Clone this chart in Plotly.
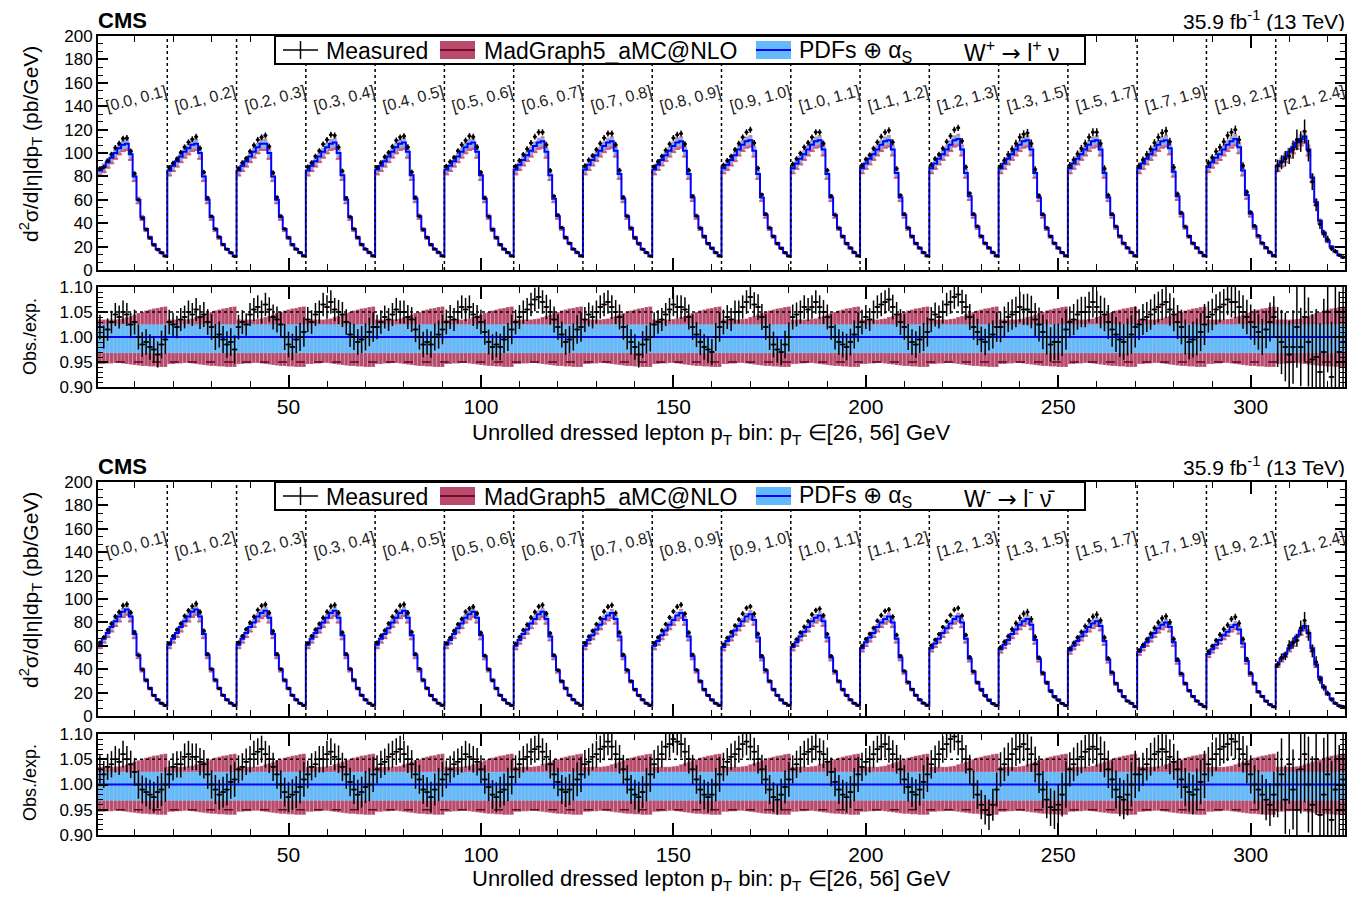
import plotly.graph_objects as go

# ---------------- data ----------------
ETA_BINS = ["[0.0, 0.1]", "[0.1, 0.2]", "[0.2, 0.3]", "[0.3, 0.4]", "[0.4, 0.5]", "[0.5, 0.6]",
            "[0.6, 0.7]", "[0.7, 0.8]", "[0.8, 0.9]", "[0.9, 1.0]", "[1.0, 1.1]", "[1.1, 1.2]",
            "[1.2, 1.3]", "[1.3, 1.5]", "[1.5, 1.7]", "[1.7, 1.9]", "[1.9, 2.1]", "[2.1, 2.4]"]
N_PT = 18

# expected (PDFs + alpha_S central), pb/GeV, W+
EXP_WP = [
    [85, 88, 92, 96, 100, 104, 107, 108, 99, 80, 60, 45, 35, 28, 22, 18, 15, 12],
    [85, 89, 93, 97, 101, 104, 107, 108, 100, 80, 60, 45, 35, 28, 22, 18, 15, 12],
    [85, 89, 93, 97, 101, 105, 108, 108, 100, 80, 60, 45, 35, 28, 22, 18, 15, 12],
    [85, 89, 93, 97, 101, 105, 108, 109, 100, 81, 60, 45, 35, 28, 22, 18, 15, 12],
    [86, 89, 93, 97, 101, 105, 108, 109, 101, 81, 61, 46, 35, 28, 22, 18, 15, 12],
    [86, 89, 93, 97, 101, 105, 108, 109, 101, 81, 61, 46, 35, 28, 22, 18, 15, 12],
    [86, 90, 94, 98, 102, 106, 109, 110, 101, 81, 61, 46, 36, 28, 23, 18, 15, 12],
    [86, 90, 94, 98, 102, 106, 109, 110, 102, 82, 61, 46, 36, 28, 23, 18, 15, 12],
    [86, 90, 94, 98, 102, 106, 109, 110, 102, 82, 62, 46, 36, 29, 23, 19, 15, 12],
    [87, 90, 94, 98, 103, 107, 110, 111, 102, 82, 62, 47, 36, 29, 23, 19, 15, 12],
    [87, 91, 95, 99, 103, 107, 110, 111, 103, 82, 62, 47, 36, 29, 23, 19, 15, 12],
    [87, 91, 95, 99, 103, 107, 110, 111, 103, 83, 62, 47, 36, 29, 23, 19, 15, 12],
    [87, 91, 95, 99, 103, 107, 111, 112, 103, 83, 63, 47, 37, 29, 23, 19, 15, 12],
    [87, 91, 95, 99, 103, 107, 110, 111, 103, 83, 62, 47, 36, 29, 23, 19, 15, 12],
    [87, 91, 95, 99, 103, 107, 110, 111, 103, 83, 62, 47, 37, 29, 23, 19, 15, 12],
    [87, 91, 95, 99, 103, 107, 110, 111, 104, 84, 63, 48, 37, 29, 23, 19, 15, 12],
    [88, 92, 96, 99, 103, 107, 110, 112, 105, 85, 64, 48, 37, 29, 23, 19, 15, 12],
    [89, 93, 97, 101, 105, 109, 112, 114, 103, 79, 58, 42, 32, 25, 20, 16, 13, 11],
]

# observed / expected, W+
RATIO_WP = [
    [1.02, 1.00, 1.015, 1.03, 1.045, 1.04, 1.05, 1.045, 1.025, 1.03, 1.00, 0.985, 0.99, 0.98, 0.975, 0.965, 0.985, 0.995],
    [1.03, 1.025, 1.02, 1.035, 1.04, 1.05, 1.045, 1.055, 1.04, 1.045, 1.03, 1.02, 1.00, 1.005, 0.995, 0.985, 0.99, 0.975],
    [1.02, 1.03, 1.025, 1.045, 1.055, 1.06, 1.05, 1.065, 1.055, 1.04, 1.035, 1.025, 1.00, 0.985, 0.98, 0.995, 1.00, 1.01],
    [1.035, 1.03, 1.045, 1.05, 1.065, 1.06, 1.07, 1.055, 1.05, 1.045, 1.03, 1.005, 1.00, 0.99, 0.995, 1.00, 1.01, 1.02],
    [1.02, 1.03, 1.04, 1.035, 1.045, 1.055, 1.05, 1.05, 1.04, 1.035, 1.015, 1.00, 0.985, 0.99, 0.985, 1.00, 1.005, 1.015],
    [1.03, 1.04, 1.035, 1.05, 1.06, 1.055, 1.06, 1.045, 1.04, 1.03, 1.01, 0.99, 0.98, 0.985, 0.98, 0.995, 1.00, 1.015],
    [1.03, 1.04, 1.05, 1.055, 1.065, 1.075, 1.08, 1.07, 1.06, 1.05, 1.035, 1.02, 1.005, 0.99, 0.995, 1.00, 1.015, 1.02],
    [1.035, 1.045, 1.04, 1.05, 1.06, 1.065, 1.07, 1.06, 1.05, 1.04, 1.02, 1.00, 0.99, 0.98, 0.965, 0.985, 0.995, 1.00],
    [1.025, 1.03, 1.035, 1.045, 1.055, 1.065, 1.06, 1.06, 1.055, 1.04, 1.02, 1.005, 0.99, 0.98, 0.975, 0.97, 1.00, 1.02],
    [1.03, 1.04, 1.035, 1.05, 1.05, 1.06, 1.07, 1.08, 1.065, 1.06, 1.04, 1.02, 1.00, 0.985, 0.975, 0.97, 0.985, 1.00],
    [1.04, 1.045, 1.05, 1.06, 1.055, 1.06, 1.07, 1.06, 1.05, 1.04, 1.02, 1.00, 0.99, 0.985, 0.98, 0.99, 1.005, 1.02],
    [1.03, 1.04, 1.035, 1.05, 1.06, 1.065, 1.07, 1.075, 1.06, 1.045, 1.03, 1.02, 1.00, 0.99, 0.985, 0.995, 1.00, 1.01],
    [1.035, 1.045, 1.04, 1.05, 1.065, 1.07, 1.08, 1.085, 1.07, 1.06, 1.04, 1.02, 1.01, 0.995, 0.99, 1.00, 1.005, 1.02],
    [1.02, 1.03, 1.04, 1.045, 1.05, 1.06, 1.055, 1.055, 1.05, 1.035, 1.025, 1.01, 1.00, 0.985, 0.99, 0.99, 1.00, 1.015],
    [1.03, 1.035, 1.045, 1.05, 1.05, 1.06, 1.07, 1.06, 1.05, 1.045, 1.03, 1.015, 1.005, 0.995, 0.99, 1.00, 1.005, 1.02],
    [1.025, 1.035, 1.04, 1.045, 1.055, 1.06, 1.065, 1.07, 1.055, 1.045, 1.03, 1.02, 1.00, 0.99, 0.995, 1.00, 1.01, 1.025],
    [1.04, 1.045, 1.055, 1.06, 1.065, 1.075, 1.07, 1.07, 1.06, 1.05, 1.04, 1.03, 1.02, 1.01, 1.00, 1.015, 1.03, 1.04],
    [1.00, 0.99, 0.98, 0.965, 0.98, 1.02, 0.98, 1.04, 0.99, 0.955, 0.96, 0.93, 0.97, 1.05, 0.92, 1.00, 0.97, 0.99],
]

# expected, W-
EXP_WM = [
    [61, 66, 71, 76, 81, 85, 89, 91, 85, 70, 52, 40, 31, 24, 18, 14, 11, 9],
    [61, 66, 71, 76, 81, 85, 89, 91, 85, 70, 52, 40, 31, 24, 18, 14, 11, 9],
    [61, 66, 71, 76, 80, 85, 88, 90, 84, 70, 52, 40, 31, 24, 18, 14, 11, 9],
    [61, 66, 71, 75, 80, 84, 88, 90, 84, 69, 52, 40, 31, 24, 18, 14, 11, 9],
    [61, 66, 70, 75, 80, 84, 88, 90, 84, 69, 52, 40, 31, 24, 18, 14, 11, 9],
    [61, 65, 70, 75, 79, 84, 87, 89, 84, 69, 51, 40, 31, 24, 18, 14, 11, 9],
    [60, 65, 70, 74, 79, 83, 87, 89, 83, 68, 51, 39, 30, 24, 18, 14, 11, 9],
    [60, 65, 69, 74, 78, 83, 86, 88, 83, 68, 51, 39, 30, 23, 18, 14, 11, 9],
    [60, 64, 69, 73, 78, 82, 86, 88, 82, 68, 51, 39, 30, 23, 18, 14, 11, 9],
    [59, 64, 68, 73, 77, 81, 85, 87, 82, 67, 50, 39, 30, 23, 18, 14, 11, 9],
    [59, 63, 68, 72, 76, 81, 84, 86, 81, 67, 50, 38, 30, 23, 18, 14, 11, 9],
    [58, 63, 67, 71, 76, 80, 83, 85, 80, 66, 50, 38, 29, 23, 18, 14, 11, 9],
    [58, 62, 66, 71, 75, 79, 83, 85, 80, 66, 49, 38, 29, 23, 18, 14, 11, 9],
    [57, 61, 65, 70, 74, 78, 81, 83, 78, 65, 49, 37, 29, 22, 17, 14, 11, 9],
    [56, 60, 64, 68, 72, 76, 79, 81, 77, 64, 48, 37, 28, 22, 17, 13, 11, 8],
    [55, 59, 63, 67, 71, 75, 78, 80, 76, 63, 47, 36, 28, 22, 17, 13, 10, 8],
    [53, 57, 61, 65, 69, 72, 76, 78, 74, 62, 47, 36, 28, 21, 17, 13, 10, 8],
    [44, 49, 53, 58, 63, 68, 73, 77, 71, 58, 44, 33, 25, 19, 15, 11, 9, 8],
]

# observed / expected, W-
RATIO_WM = [
    [1.03, 1.02, 1.035, 1.04, 1.05, 1.045, 1.06, 1.05, 1.04, 1.025, 1.00, 0.99, 0.985, 0.98, 0.975, 0.985, 0.99, 1.00],
    [1.02, 1.035, 1.04, 1.04, 1.055, 1.06, 1.055, 1.055, 1.045, 1.04, 1.02, 1.00, 0.99, 0.98, 0.985, 0.99, 1.005, 1.01],
    [1.03, 1.035, 1.045, 1.05, 1.06, 1.065, 1.07, 1.06, 1.05, 1.035, 1.02, 1.00, 0.985, 0.975, 0.98, 0.985, 0.995, 1.01],
    [1.02, 1.035, 1.04, 1.05, 1.05, 1.06, 1.065, 1.055, 1.05, 1.035, 1.02, 1.005, 0.99, 0.98, 0.985, 0.995, 1.00, 1.02],
    [1.03, 1.04, 1.045, 1.055, 1.06, 1.065, 1.07, 1.06, 1.05, 1.04, 1.02, 1.01, 0.99, 0.985, 0.975, 0.99, 1.00, 1.01],
    [1.02, 1.03, 1.04, 1.045, 1.05, 1.06, 1.055, 1.05, 1.045, 1.03, 1.01, 0.995, 0.98, 0.975, 0.985, 0.99, 1.00, 1.015],
    [1.03, 1.04, 1.05, 1.055, 1.065, 1.07, 1.075, 1.065, 1.055, 1.04, 1.02, 1.005, 0.99, 0.985, 0.99, 1.00, 1.01, 1.02],
    [1.04, 1.045, 1.055, 1.06, 1.07, 1.075, 1.085, 1.075, 1.06, 1.05, 1.03, 1.01, 0.99, 0.98, 0.975, 0.985, 1.00, 1.02],
    [1.04, 1.05, 1.06, 1.075, 1.08, 1.09, 1.085, 1.08, 1.065, 1.05, 1.03, 1.01, 0.99, 0.98, 0.975, 0.98, 1.00, 1.02],
    [1.035, 1.045, 1.055, 1.06, 1.07, 1.08, 1.085, 1.075, 1.065, 1.05, 1.03, 1.01, 0.99, 0.975, 0.97, 0.98, 0.995, 1.01],
    [1.03, 1.04, 1.05, 1.06, 1.065, 1.07, 1.075, 1.065, 1.06, 1.045, 1.025, 1.005, 0.99, 0.98, 0.975, 0.985, 1.00, 1.02],
    [1.035, 1.045, 1.05, 1.06, 1.07, 1.075, 1.08, 1.07, 1.06, 1.05, 1.03, 1.01, 0.995, 0.985, 0.98, 0.99, 1.005, 1.02],
    [1.04, 1.05, 1.06, 1.07, 1.08, 1.09, 1.095, 1.085, 1.07, 1.05, 1.03, 1.00, 0.98, 0.96, 0.95, 0.94, 0.96, 0.99],
    [1.03, 1.04, 1.05, 1.06, 1.07, 1.075, 1.08, 1.07, 1.06, 1.04, 1.02, 0.99, 0.97, 0.955, 0.95, 0.96, 0.98, 1.00],
    [1.03, 1.04, 1.05, 1.055, 1.065, 1.07, 1.075, 1.07, 1.06, 1.05, 1.03, 1.01, 0.99, 0.975, 0.97, 0.98, 1.00, 1.02],
    [1.02, 1.03, 1.04, 1.05, 1.06, 1.065, 1.07, 1.065, 1.055, 1.045, 1.03, 1.01, 0.995, 0.985, 0.98, 0.99, 1.005, 1.02],
    [1.04, 1.05, 1.06, 1.07, 1.075, 1.08, 1.09, 1.085, 1.07, 1.06, 1.04, 1.02, 1.00, 0.99, 0.98, 0.97, 0.96, 0.98],
    [1.00, 1.02, 0.97, 1.04, 0.99, 0.95, 1.03, 1.06, 1.00, 0.96, 1.05, 0.94, 0.98, 1.02, 0.93, 0.99, 0.95, 1.01],
]

# relative uncertainties of the measurement (per pT bin)
ERR_CENTRAL_WP = [0.024, 0.023, 0.022, 0.022, 0.022, 0.022, 0.022, 0.022, 0.023, 0.024, 0.025, 0.025, 0.026, 0.026, 0.027, 0.027, 0.028, 0.029]
ERR_FWD_WP = [0.030, 0.030, 0.029, 0.029, 0.029, 0.029, 0.029, 0.030, 0.031, 0.032, 0.033, 0.034, 0.035, 0.035, 0.036, 0.037, 0.038, 0.040]
ERR_LAST_WP = [0.060, 0.065, 0.070, 0.070, 0.075, 0.080, 0.080, 0.085, 0.090, 0.095, 0.100, 0.105, 0.110, 0.115, 0.120, 0.120, 0.125, 0.130]
ERR_CENTRAL_WM = [0.027, 0.026, 0.025, 0.025, 0.025, 0.025, 0.025, 0.025, 0.026, 0.027, 0.028, 0.028, 0.029, 0.030, 0.031, 0.032, 0.033, 0.034]
ERR_FWD_WM = [0.033, 0.032, 0.031, 0.031, 0.031, 0.031, 0.031, 0.032, 0.033, 0.034, 0.036, 0.037, 0.038, 0.039, 0.040, 0.042, 0.044, 0.046]
ERR_LAST_WM = [0.065, 0.070, 0.070, 0.075, 0.080, 0.085, 0.085, 0.090, 0.095, 0.100, 0.105, 0.110, 0.115, 0.120, 0.125, 0.130, 0.135, 0.140]
ERR_GROUP = ["c"] * 13 + ["f"] * 4 + ["l"]

# MadGraph5_aMC@NLO band relative to expectation (per pT bin)
MG_HI = [1.035, 1.035, 1.035, 1.035, 1.035, 1.036, 1.037, 1.040, 1.042, 1.045, 1.048, 1.050, 1.053, 1.055, 1.057, 1.058, 1.060, 1.061]
MG_LO = [0.946, 0.946, 0.947, 0.947, 0.948, 0.948, 0.947, 0.946, 0.945, 0.944, 0.943, 0.942, 0.942, 0.941, 0.941, 0.940, 0.940, 0.940]
MG_CENTRAL = 0.95
# PDFs + alpha_S band relative to expectation
PDF_HI = [1.025, 1.025, 1.025, 1.025, 1.025, 1.025, 1.025, 1.025, 1.025, 1.025, 1.025, 1.025, 1.025, 1.025, 1.025, 1.025, 1.025, 1.025]
PDF_LO = [0.968, 0.968, 0.968, 0.968, 0.968, 0.968, 0.968, 0.968, 0.968, 0.968, 0.968, 0.968, 0.968, 0.968, 0.968, 0.968, 0.968, 0.968]

# ---------------- styling / geometry ----------------
OFF = 8                      # page body margin of the html page
FIG_W, FIG_H = 1367 - 2 * OFF, 903 - 2 * OFF
PL, PR, PT, PB = 98 - OFF, 1345 - OFF, 36 - OFF, 835 - OFF   # plot area, figure pixels
FONT = "Liberation Sans, Arial, Helvetica, sans-serif"
RED = "rgb(184,74,108)"
RED_MAIN = "rgba(190,90,125,0.75)"
BLUE_BAND = "rgb(98,186,250)"
BLUE_MAIN = "rgba(110,195,250,0.85)"
BLUE_LINE = "#0000ff"


def pxx(px):
    """page x pixel -> paper coordinate"""
    return (px - OFF - PL) / (PR - PL)


def pxy(py):
    """page y pixel -> paper coordinate"""
    return (PB - (py - OFF)) / (PB - PT)


fig = go.Figure()


def add_panel(exp, ratio, err_c, err_f, err_l, xm, ym, xr, yr):
    centers, e, r, rel = [], [], [], []
    for k, (row_e, row_r) in enumerate(zip(exp, ratio)):
        errs = {"c": err_c, "f": err_f, "l": err_l}[ERR_GROUP[k]]
        for j in range(N_PT):
            centers.append(k * N_PT + j + 1)
            e.append(row_e[j])
            r.append(row_r[j])
            rel.append(errs[j])
    n = len(centers)
    mg_hi = [MG_HI[i % N_PT] for i in range(n)]
    mg_lo = [MG_LO[i % N_PT] for i in range(n)]
    pdf_hi = [PDF_HI[i % N_PT] for i in range(n)]
    pdf_lo = [PDF_LO[i % N_PT] for i in range(n)]
    meas = [e[i] * r[i] for i in range(n)]
    meas_err = [meas[i] * rel[i] for i in range(n)]

    # ---- main panel ----
    fig.add_trace(go.Bar(x=centers, base=[e[i] * mg_lo[i] for i in range(n)],
                         y=[e[i] * (mg_hi[i] - mg_lo[i]) for i in range(n)], width=1.0,
                         marker=dict(color=RED_MAIN, line=dict(width=0)),
                         xaxis=xm, yaxis=ym, showlegend=False, hoverinfo="skip"))
    fig.add_trace(go.Bar(x=centers, base=[e[i] * pdf_lo[i] for i in range(n)],
                         y=[e[i] * (pdf_hi[i] - pdf_lo[i]) for i in range(n)], width=1.0,
                         marker=dict(color=BLUE_MAIN, line=dict(width=0)),
                         xaxis=xm, yaxis=ym, showlegend=False, hoverinfo="skip"))
    fig.add_trace(go.Scatter(x=centers, y=[v * MG_CENTRAL for v in e], mode="markers",
                             marker=dict(symbol="line-ew", size=4, line=dict(width=2, color="rgb(200,95,130)")),
                             xaxis=xm, yaxis=ym, showlegend=False, hoverinfo="skip"))
    sx = [c - 0.5 for c in centers] + [centers[-1] + 0.5]
    sy = e + [e[-1]]
    fig.add_trace(go.Scatter(x=sx, y=sy, mode="lines", line=dict(color=BLUE_LINE, width=2, shape="hv"),
                             xaxis=xm, yaxis=ym, showlegend=False, hoverinfo="skip"))
    fig.add_trace(go.Scatter(x=centers, y=meas, mode="markers",
                             marker=dict(symbol="circle", size=3.5, color="black"),
                             error_y=dict(type="data", array=meas_err, thickness=1.5, width=0, color="black"),
                             error_x=dict(type="constant", value=0.5, thickness=1.5, width=0, color="black"),
                             xaxis=xm, yaxis=ym, showlegend=False, hoverinfo="skip"))

    # ---- ratio panel ----
    fig.add_trace(go.Bar(x=centers, base=mg_lo, y=[mg_hi[i] - mg_lo[i] for i in range(n)], width=1.0,
                         marker=dict(color=RED, line=dict(width=0.6, color="rgba(255,255,255,0.35)")),
                         xaxis=xr, yaxis=yr, showlegend=False, hoverinfo="skip"))
    fig.add_trace(go.Bar(x=centers, base=pdf_lo, y=[pdf_hi[i] - pdf_lo[i] for i in range(n)], width=1.0,
                         marker=dict(color=BLUE_BAND, line=dict(width=0.4, color="rgba(255,255,255,0.3)")),
                         xaxis=xr, yaxis=yr, showlegend=False, hoverinfo="skip"))
    x_edges = [0.5, centers[-1] + 0.5]
    fig.add_trace(go.Scatter(x=x_edges, y=[MG_CENTRAL] * 2, mode="lines",
                             line=dict(color="#5a0a22", width=1.5, dash="dash"),
                             xaxis=xr, yaxis=yr, showlegend=False, hoverinfo="skip"))
    fig.add_trace(go.Scatter(x=x_edges, y=[1.05, 1.05], mode="lines",
                             line=dict(color="black", width=1.5, dash="dot"),
                             xaxis=xr, yaxis=yr, showlegend=False, hoverinfo="skip"))
    fig.add_trace(go.Scatter(x=x_edges, y=[1.0, 1.0], mode="lines",
                             line=dict(color=BLUE_LINE, width=2),
                             xaxis=xr, yaxis=yr, showlegend=False, hoverinfo="skip"))
    fig.add_trace(go.Scatter(x=centers, y=r, mode="markers",
                             marker=dict(symbol="line-ew", size=4, color="black", line=dict(width=1.5, color="black")),
                             error_y=dict(type="data", array=[r[i] * rel[i] for i in range(n)],
                                          thickness=1.5, width=0, color="black"),
                             error_x=dict(type="constant", value=0.5, thickness=1.5, width=0, color="black"),
                             xaxis=xr, yaxis=yr, showlegend=False, hoverinfo="skip"))
    return n


n_bins = add_panel(EXP_WP, RATIO_WP, ERR_CENTRAL_WP, ERR_FWD_WP, ERR_LAST_WP, "x", "y", "x2", "y2")
add_panel(EXP_WM, RATIO_WM, ERR_CENTRAL_WM, ERR_FWD_WM, ERR_LAST_WM, "x3", "y3", "x4", "y4")

XR = [0.5, n_bins + 0.5]

dom_main_top = [pxy(270), pxy(36)]
dom_rat_top = [pxy(387), pxy(287)]
dom_main_bot = [pxy(716), pxy(482)]
dom_rat_bot = [pxy(835), pxy(734)]

ytickfont = dict(family=FONT, size=17, color="black")
xtickfont = dict(family=FONT, size=21, color="black")


def xaxis(anchor, labels):
    return dict(domain=[0, 1], anchor=anchor, range=XR, showline=True, linewidth=2, linecolor="black",
                mirror="allticks", ticks="inside", ticklen=12, tickwidth=1.5, tickcolor="black",
                tick0=0, dtick=50, showticklabels=labels, tickfont=xtickfont, showgrid=False, zeroline=False,
                minor=dict(dtick=10, tick0=0, ticks="inside", ticklen=6, tickwidth=1, tickcolor="black"))


def yaxis_main(anchor, dom):
    return dict(domain=dom, anchor=anchor, range=[0, 200], showline=True, linewidth=2, linecolor="black",
                mirror="allticks", ticks="inside", ticklen=10, tickwidth=1.5, tickcolor="black",
                tick0=0, dtick=20, tickfont=ytickfont, showgrid=False, zeroline=False,
                minor=dict(dtick=20 / 3, tick0=0, ticks="inside", ticklen=5, tickwidth=1, tickcolor="black"))


def yaxis_ratio(anchor, dom):
    return dict(domain=dom, anchor=anchor, range=[0.9, 1.1], showline=True, linewidth=2, linecolor="black",
                mirror="allticks", ticks="inside", ticklen=10, tickwidth=1.5, tickcolor="black",
                tick0=0.9, dtick=0.05, tickformat=".2f", tickfont=ytickfont, showgrid=False, zeroline=False,
                minor=dict(dtick=0.01, tick0=0.9, ticks="inside", ticklen=5, tickwidth=1, tickcolor="black"))


shapes = []
annotations = []
ARROW = "<span style='font-family:DejaVu Sans'>→</span>"

for (xm, ym, top_px, wlabel) in [("x", "y", 36, "W<sup>+</sup> " + ARROW + " l<sup>+</sup> ν"),
                                  ("x3", "y3", 482, "W<sup>-</sup> " + ARROW + " l<sup>-</sup> ν̄")]:
    # segment separators
    for k in range(1, len(ETA_BINS)):
        xb = k * N_PT + 0.5
        shapes.append(dict(type="line", xref=xm, yref=ym, x0=xb, x1=xb, y0=0, y1=200,
                           line=dict(color="black", width=1.5, dash="dot"), layer="above"))
    # eta-bin labels
    for k, lab in enumerate(ETA_BINS):
        annotations.append(dict(x=k * N_PT + N_PT / 2 + 1.4, y=147, xref=xm, yref=ym, text=lab,
                                textangle=-15, showarrow=False,
                                font=dict(family=FONT, size=16, color="#222")))
    # legend box
    ly0, ly1 = top_px, top_px + 28
    ymid = (ly0 + ly1) / 2
    shapes.append(dict(type="rect", xref="paper", yref="paper", x0=pxx(275), x1=pxx(1085),
                       y0=pxy(ly1), y1=pxy(ly0), fillcolor="white", line=dict(color="black", width=2),
                       layer="above"))
    shapes.append(dict(type="line", xref="paper", yref="paper", x0=pxx(283), x1=pxx(318),
                       y0=pxy(ymid), y1=pxy(ymid), line=dict(color="black", width=1.5), layer="above"))
    shapes.append(dict(type="line", xref="paper", yref="paper", x0=pxx(300.5), x1=pxx(300.5),
                       y0=pxy(ymid - 9), y1=pxy(ymid + 9), line=dict(color="black", width=1.5), layer="above"))
    shapes.append(dict(type="rect", xref="paper", yref="paper", x0=pxx(440), x1=pxx(475),
                       y0=pxy(ymid + 9), y1=pxy(ymid - 9), fillcolor=RED, line=dict(width=0), layer="above"))
    shapes.append(dict(type="line", xref="paper", yref="paper", x0=pxx(440), x1=pxx(475),
                       y0=pxy(ymid), y1=pxy(ymid), line=dict(color="#7a0a2c", width=2), layer="above"))
    shapes.append(dict(type="rect", xref="paper", yref="paper", x0=pxx(756), x1=pxx(791),
                       y0=pxy(ymid + 9), y1=pxy(ymid - 9), fillcolor=BLUE_BAND, line=dict(width=0), layer="above"))
    shapes.append(dict(type="line", xref="paper", yref="paper", x0=pxx(756), x1=pxx(791),
                       y0=pxy(ymid), y1=pxy(ymid), line=dict(color=BLUE_LINE, width=2), layer="above"))
    lfont = dict(family=FONT, size=23, color="black")
    for xt, txt in [(324, "Measured"), (482, "MadGraph5_aMC@NLO"), (797, "PDFs ⊕ α<sub>S</sub>"), (962, wlabel)]:
        annotations.append(dict(x=pxx(xt), y=pxy(ymid + 1), xref="paper", yref="paper", text=txt,
                                xanchor="left", yanchor="middle", showarrow=False, font=lfont))
    # CMS + lumi
    annotations.append(dict(x=pxx(97), y=pxy(top_px - 16), xref="paper", yref="paper", text="<b>CMS</b>",
                            xanchor="left", yanchor="middle", showarrow=False, height=22, borderpad=0,
                            font=dict(family=FONT, size=22, color="black")))
    annotations.append(dict(x=pxx(1346), y=pxy(top_px - 16), xref="paper", yref="paper",
                            text="35.9 fb<sup>-1</sup> (13 TeV)", xanchor="right", yanchor="middle",
                            showarrow=False, height=22, borderpad=0,
                            font=dict(family=FONT, size=21, color="black")))
    # y titles
    annotations.append(dict(x=pxx(30), y=pxy(top_px + 108), xref="paper", yref="paper",
                            text="d<sup>2</sup>σ/d|η|dp<sub>T</sub> (pb/GeV)", textangle=-90,
                            xanchor="center", yanchor="middle", showarrow=False,
                            font=dict(family=FONT, size=21, color="black")))
    annotations.append(dict(x=pxx(30), y=pxy(top_px + 301), xref="paper", yref="paper",
                            text="Obs./exp.", textangle=-90, xanchor="center", yanchor="middle",
                            showarrow=False, font=dict(family=FONT, size=18, color="black")))
    # x title
    annotations.append(dict(x=pxx(711), y=pxy(top_px + 398), xref="paper", yref="paper",
                            text="Unrolled dressed lepton p<sub>T</sub> bin: p<sub>T</sub> ∈[26, 56] GeV",
                            xanchor="center", yanchor="middle", showarrow=False,
                            font=dict(family=FONT, size=22, color="black")))

fig.update_layout(
    width=FIG_W, height=FIG_H,
    margin=dict(l=PL, r=FIG_W - PR, t=PT, b=FIG_H - PB),
    paper_bgcolor="white", plot_bgcolor="white",
    barmode="overlay", showlegend=False,
    xaxis=xaxis("y", False), yaxis=yaxis_main("x", dom_main_top),
    xaxis2=xaxis("y2", True), yaxis2=yaxis_ratio("x2", dom_rat_top),
    xaxis3=xaxis("y3", False), yaxis3=yaxis_main("x3", dom_main_bot),
    xaxis4=xaxis("y4", True), yaxis4=yaxis_ratio("x4", dom_rat_bot),
    shapes=shapes, annotations=annotations,
    font=dict(family=FONT, color="black"),
)

fig.write_html("out.html")
